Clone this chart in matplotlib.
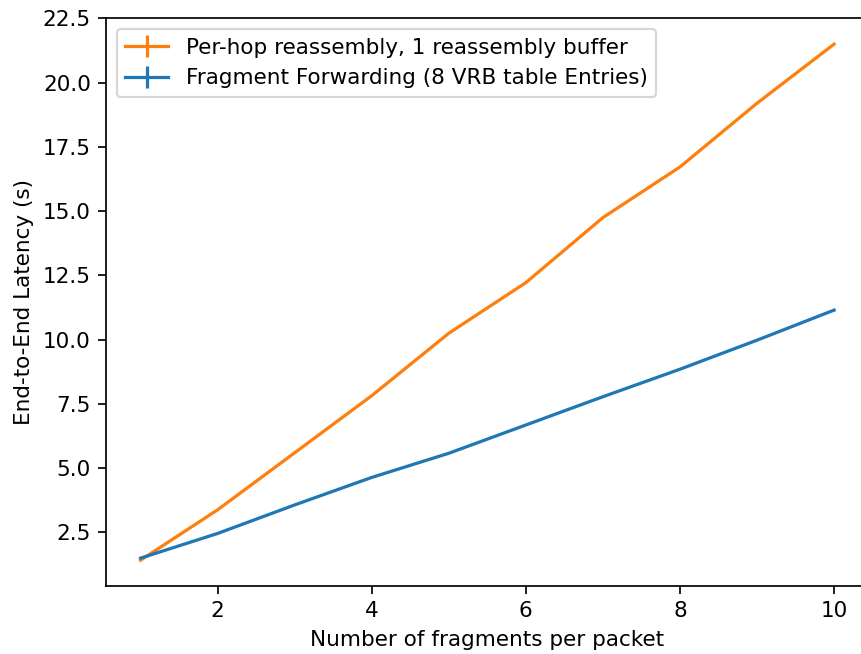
import matplotlib
matplotlib.use('Agg')
import matplotlib.pyplot as plt
import numpy as np

# 데이터
fragments = [1, 2, 3, 4, 5, 6, 7, 8, 9, 10]
perhop = [1.42, 3.38, 5.6, 7.82, 10.25, 12.22, 14.75, 16.72, 19.2, 21.5]
forwarding = [1.5, 2.46, 3.57, 4.64, 5.58, 6.68, 7.78, 8.85, 9.98, 11.15]
perhop_err = [0.0] * len(fragments)
forwarding_err = [0.0] * len(fragments)

# 그래프 크기 설정 (오른쪽 축은 잘려 있음)
plt.figure(figsize=(861 / 155, 654 / 155), dpi=155)
plt.subplots_adjust(left=0.123, right=1.009, top=0.972, bottom=0.104)

plt.errorbar(fragments, perhop, yerr=perhop_err, color='C1',
             label='Per-hop reassembly, 1 reassembly buffer')
plt.errorbar(fragments, forwarding, yerr=forwarding_err, color='C0',
             label='Fragment Forwarding (8 VRB table Entries)')

plt.xlabel('Number of fragments per packet')
plt.ylabel('End-to-End Latency (s)')
plt.legend(loc='upper left')

plt.savefig('out.png', dpi=155)
